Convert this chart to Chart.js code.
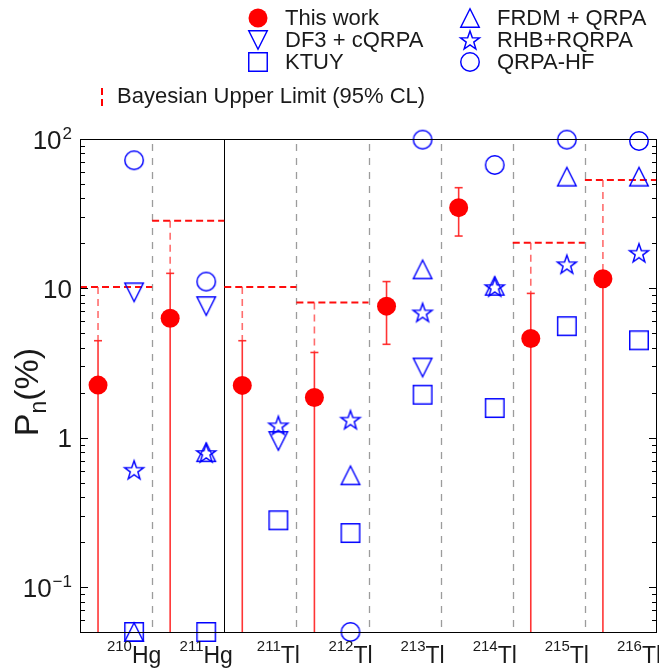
<!DOCTYPE html>
<html><head><meta charset="utf-8">
<script src="https://cdn.jsdelivr.net/npm/chart.js@4"></script>
<style>html,body{margin:0;padding:0;background:#fff}#wrap{width:659px;height:668px}</style>
</head><body><div id="wrap"><canvas id="c" width="659" height="668"></canvas></div>
<script>
// ---- data ----
const massNumbers = ['210','211','211','212','213','214','215','216'];
const elements    = ['Hg','Hg','Tl','Tl','Tl','Tl','Tl','Tl'];
const thisWork    = [2.25, 6.3, 2.24, 1.86, 7.6, 34.7, 4.62, 11.6];
const errUpper    = [4.46, 12.6, 4.46, 3.72, 11.1, 47.2, 9.25, null];
const errLower    = [0, 0, 0, 0, 4.22, 22.4, 0, 0];   // 0 = extends to axis bottom
const upperLimit  = [10.2, 28.4, 10.2, 8.05, null, null, 20.2, 53.1];
const df3cqrpa    = [9.4, 7.6, 0.95, null, 2.95, null, null, null];
const ktuy        = [0.05, 0.05, 0.28, 0.23, 1.94, 1.58, 5.58, 4.49];
const frdmQrpa    = [0.05, 0.8, null, 0.56, 13.4, 10.4, 56, 56];
const rhbRqrpa    = [0.61, 0.79, 1.21, 1.32, 6.9, 10.2, 14.5, 17.3];
const qrpaHf      = [72, 11.1, null, 0.05, 99, 67, 99, 97];
const yTickValues = [0.1, 1, 10, 100];
const yTickBase   = ['10', '1', '10', '10'];
const yTickExp    = ['\u22121', '', '', '2'];

const FONT = '"Liberation Sans", Arial, Helvetica, sans-serif';
const BLUE = '#0000ff';
const RED = '#ff0000';
const TXT = '#1a1a1a';

// ---- marker images ----
function mk(kind, s, lw) {
  const size = Math.ceil(s + 2 * lw + 4);
  const c = document.createElement('canvas');
  c.width = c.height = size;
  const g = c.getContext('2d');
  const cx = size / 2, cy = size / 2, h = s / 2;
  g.beginPath();
  if (kind === 'up') {
    g.moveTo(cx, cy - h); g.lineTo(cx + h, cy + h); g.lineTo(cx - h, cy + h); g.closePath();
  } else if (kind === 'down') {
    g.moveTo(cx, cy + h); g.lineTo(cx + h, cy - h); g.lineTo(cx - h, cy - h); g.closePath();
  } else if (kind === 'square') {
    g.rect(cx - h, cy - h, s, s);
  } else if (kind === 'circle') {
    g.arc(cx, cy, h, 0, Math.PI * 2);
  } else if (kind === 'star') {
    const R = h * 1.08;
    for (let k = 0; k < 10; k++) {
      const r = k % 2 === 0 ? R : R * 0.4;
      const a = -Math.PI / 2 + k * Math.PI / 5;
      g.lineTo(cx + r * Math.cos(a), cy + 0.9 + r * Math.sin(a));
    }
    g.closePath();
  }
  g.strokeStyle = BLUE; g.lineWidth = lw; g.stroke();
  return c;
}
const imgUp = mk('up', 18.5, 1.45);
const imgDown = mk('down', 18.5, 1.45);
const imgSq = mk('square', 18.5, 1.45);
const imgCirc = mk('circle', 18.5, 1.45);
const imgStar = mk('star', 18.5, 1.45);

function pts(arr, off) {
  const out = [];
  arr.forEach((v, i) => { if (v !== null) out.push({ x: i + off, y: v }); });
  return out;
}
function ds(label, arr, img) {
  return { label, data: pts(arr, 0.75), pointStyle: img, pointRadius: 11, pointHoverRadius: 11,
           showLine: false, clip: false, borderColor: BLUE, backgroundColor: 'transparent' };
}

// ---- custom drawing plugin ----
const deco = {
  id: 'deco',
  beforeDatasetsDraw(chart) {
    const ctx = chart.ctx, xs = chart.scales.x, ys = chart.scales.y, a = chart.chartArea;
    ctx.save();
    // separators
    for (let i = 1; i < massNumbers.length; i++) {
      const x = Math.round(xs.getPixelForValue(i)) + 0.5;
      ctx.beginPath();
      if (elements[i] !== elements[i - 1]) {
        ctx.setLineDash([]); ctx.strokeStyle = '#000'; ctx.lineWidth = 1;
        ctx.moveTo(x, a.top); ctx.lineTo(x, a.bottom);
      } else {
        ctx.setLineDash([7, 7]); ctx.strokeStyle = '#9c9c9c'; ctx.lineWidth = 1.3;
        ctx.moveTo(x, a.top + 5); ctx.lineTo(x, a.bottom);
      }
      ctx.stroke();
    }
    // upper limits and error bars
    thisWork.forEach((v, i) => {
      const x = xs.getPixelForValue(i + 0.25);
      const yv = ys.getPixelForValue(v);
      const yHi = errUpper[i] !== null ? ys.getPixelForValue(errUpper[i]) : yv;
      if (upperLimit[i] !== null) {
        const yu = ys.getPixelForValue(upperLimit[i]);
        ctx.setLineDash([7, 4]); ctx.strokeStyle = 'rgba(255,0,0,0.95)'; ctx.lineWidth = 2;
        ctx.beginPath();
        ctx.moveTo(xs.getPixelForValue(i), yu); ctx.lineTo(xs.getPixelForValue(i + 1), yu);
        ctx.stroke();
        ctx.setLineDash([7, 5]); ctx.strokeStyle = 'rgba(255,60,60,0.75)'; ctx.lineWidth = 1.6;
        ctx.beginPath(); ctx.moveTo(x, yu); ctx.lineTo(x, yHi); ctx.stroke();
      }
      ctx.setLineDash([]); ctx.strokeStyle = 'rgba(255,30,30,0.9)'; ctx.lineWidth = 1.6;
      const yLo = ys.getPixelForValue(errLower[i]);
      ctx.beginPath(); ctx.moveTo(x, yLo); ctx.lineTo(x, yHi); ctx.stroke();
      if (errUpper[i] !== null) {
        ctx.beginPath(); ctx.moveTo(x - 4, yHi); ctx.lineTo(x + 4, yHi); ctx.stroke();
      }
      if (errLower[i] > 0) {
        ctx.beginPath(); ctx.moveTo(x - 4, yLo); ctx.lineTo(x + 4, yLo); ctx.stroke();
      }
    });
    ctx.restore();
  },
  afterDraw(chart) {
    const ctx = chart.ctx, xs = chart.scales.x, ys = chart.scales.y, a = chart.chartArea;
    ctx.save();
    ctx.setLineDash([]);
    // frame
    ctx.strokeStyle = '#000'; ctx.lineWidth = 1;
    ctx.strokeRect(Math.round(a.left) + 0.5, Math.round(a.top) + 0.5,
                   Math.round(a.right - a.left) - 1, Math.round(a.bottom - a.top));
    // ticks (inward, both sides)
    ctx.beginPath();
    for (let d = -2; d <= 2; d++) {
      for (let k = 1; k <= 9; k++) {
        const v = k * Math.pow(10, d);
        if (v < ys.min - 1e-9 || v > ys.max + 1e-9) continue;
        const y = Math.round(ys.getPixelForValue(v)) + 0.5;
        const len = k === 1 ? 8 : 5;
        ctx.moveTo(a.left, y); ctx.lineTo(a.left + len, y);
        ctx.moveTo(a.right, y); ctx.lineTo(a.right - len, y);
      }
    }
    ctx.stroke();
    // y tick labels
    ctx.fillStyle = TXT; ctx.textBaseline = 'alphabetic'; ctx.textAlign = 'left';
    yTickValues.forEach((v, i) => {
      const y = ys.getPixelForValue(v);
      ctx.font = '26px ' + FONT;
      const wb = ctx.measureText(yTickBase[i]).width;
      ctx.font = '17px ' + FONT;
      const we = yTickExp[i] ? ctx.measureText(yTickExp[i]).width + 1 : 0;
      const x0 = 72 - wb - we;
      ctx.font = '26px ' + FONT;
      ctx.fillText(yTickBase[i], x0, y + 9.5);
      if (yTickExp[i]) { ctx.font = '17px ' + FONT; ctx.fillText(yTickExp[i], x0 + wb + 1, y - 0.5); }
    });
    // x labels
    massNumbers.forEach((m, i) => {
      const cx = xs.getPixelForValue(i + 0.75);
      ctx.font = '15px ' + FONT; const wm = ctx.measureText(m).width;
      ctx.font = '23px ' + FONT; const wel = ctx.measureText(elements[i]).width;
      const x0 = cx - (wm + wel) / 2;
      ctx.font = '15px ' + FONT; ctx.fillText(m, x0, 651);
      ctx.font = '23px ' + FONT; ctx.fillText(elements[i], x0 + wm, 663);
    });
    // y axis title  P_n(%)
    ctx.save();
    ctx.translate(0, 392);
    ctx.rotate(-Math.PI / 2);
    ctx.font = '34px ' + FONT; const wP = ctx.measureText('P').width; const wR = ctx.measureText('(%)').width;
    ctx.font = '23px ' + FONT; const wn = ctx.measureText('n').width;
    const L = wP + wn + wR; let tx = -L / 2;
    ctx.font = '34px ' + FONT; ctx.fillText('P', tx, 38); tx += wP;
    ctx.font = '23px ' + FONT; ctx.fillText('n', tx, 46); tx += wn;
    ctx.font = '34px ' + FONT; ctx.fillText('(%)', tx, 38);
    ctx.restore();
    // legend
    ctx.font = '22px ' + FONT; ctx.fillStyle = TXT; ctx.textBaseline = 'middle';
    const rows = [18, 40, 62];
    ctx.fillStyle = RED; ctx.beginPath(); ctx.arc(258, rows[0], 9.5, 0, Math.PI * 2); ctx.fill();
    const drawImg = (im, x, y) => ctx.drawImage(im, x - im.width / 2, y - im.height / 2);
    drawImg(imgDown, 258, rows[1]);
    drawImg(imgSq, 258, rows[2]);
    drawImg(imgUp, 470, rows[0]);
    drawImg(imgStar, 470, rows[1]);
    drawImg(imgCirc, 470, rows[2]);
    ctx.fillStyle = TXT;
    ctx.fillText('This work', 285, rows[0] + 1);
    ctx.fillText('DF3 + cQRPA', 285, rows[1] + 1);
    ctx.fillText('KTUY', 285, rows[2] + 1);
    ctx.fillText('FRDM + QRPA', 497, rows[0] + 1);
    ctx.fillText('RHB+RQRPA', 497, rows[1] + 1);
    ctx.fillText('QRPA-HF', 497, rows[2] + 1);
    ctx.strokeStyle = RED; ctx.lineWidth = 2; ctx.setLineDash([7, 4]);
    ctx.beginPath(); ctx.moveTo(102, 88); ctx.lineTo(102, 107); ctx.stroke();
    ctx.fillText('Bayesian Upper Limit (95% CL)', 117, 97);
    ctx.restore();
  }
};

new Chart(document.getElementById('c'), {
  type: 'scatter',
  data: {
    datasets: [
      ds('DF3 + cQRPA', df3cqrpa, imgDown),
      ds('KTUY', ktuy, imgSq),
      ds('FRDM + QRPA', frdmQrpa, imgUp),
      ds('RHB+RQRPA', rhbRqrpa, imgStar),
      ds('QRPA-HF', qrpaHf, imgCirc),
      { label: 'This work', data: pts(thisWork, 0.25), pointStyle: 'circle', pointRadius: 9.5,
        pointHoverRadius: 9.5, backgroundColor: RED, borderColor: RED, borderWidth: 0,
        showLine: false, clip: false }
    ]
  },
  options: {
    responsive: false,
    animation: false,
    events: [],
    layout: { autoPadding: false, padding: { left: 80, right: 2, top: 139, bottom: 36 } },
    plugins: { legend: { display: false }, tooltip: { enabled: false } },
    scales: {
      x: { type: 'linear', min: 0, max: 8, display: false },
      y: { type: 'logarithmic', min: 0.05, max: 100, display: false }
    }
  },
  plugins: [deco]
});
</script>
</body></html>
